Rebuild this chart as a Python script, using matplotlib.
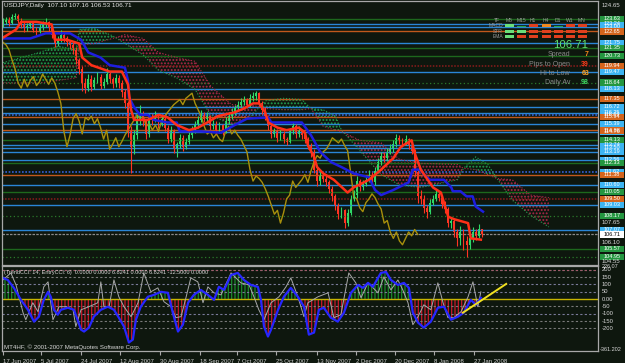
import numpy as np
import matplotlib.pyplot as plt
from matplotlib.patches import Rectangle

BG = '#0e170e'
plt.rcParams['font.family'] = ['Liberation Sans', 'DejaVu Sans']
plt.rcParams['hatch.linewidth'] = 0.9

# ---- daily bars ----
first_open = 123.2
closes = [123.4, 123.6, 123.3, 123.8, 123.9, 123.5, 123.2,
          122.9, 123.1, 123.3, 122.8, 122.7, 123.0, 123.2,
          123.4, 122.9, 122.4, 121.7,
          122.0, 122.4, 122.1, 121.8, 121.6,
          121.2, 120.4, 119.7, 118.6, 118.2,
          118.9, 118.3, 118.8, 119.1, 118.4,
          118.7, 119.3, 118.9, 118.5, 119.0, 118.6,
          117.9, 117.0, 114.8, 113.6,
          114.5, 115.8, 116.2,
          115.6, 114.6, 115.9, 115.7, 116.0, 115.4, 115.8,
          115.1, 114.2, 114.9, 113.4, 113.8,
          114.3, 113.6, 114.0, 114.5, 114.9,
          115.3, 115.7, 116.1,
          115.8, 116.0, 115.2, 115.4, 114.9,
          115.3, 114.8, 115.6, 116.0, 116.3, 116.6,
          116.9, 117.1, 117.3, 116.9, 117.4, 117.6, 117.8,
          117.0, 116.5, 116.0,
          115.2, 114.6, 114.8, 114.3, 114.6, 114.2, 114.0, 114.8, 115.2, 114.6,
          114.9, 114.5, 114.2, 113.7, 113.2,
          111.8, 110.9, 111.3,
          111.1, 110.8, 110.3, 109.7, 109.0,
          108.3, 108.6, 107.6, 108.4, 109.5,
          109.8, 110.9, 110.4, 110.7, 111.0,
          111.4, 110.8, 111.7, 112.4, 112.9,
          112.7, 113.2, 113.4, 113.8, 114.3,
          114.1, 113.9, 114.2, 113.7, 113.3,
          111.6, 109.7,
          109.5, 108.8, 108.5,
          109.2, 109.5, 109.9, 109.6, 109.1, 108.7,
          107.6, 107.8, 106.9, 106.4,
          106.9, 106.2, 105.9, 106.4, 106.9,
          106.6, 107.1, 106.71]
highs = [123.7, 123.8, 123.8, 124.0, 124.1, 124.0, 123.7,
         123.4, 123.3, 123.5, 123.4, 123.0, 123.2, 123.5,
         123.7, 123.5, 123.0, 122.5,
         122.3, 122.8, 122.6, 122.3, 122.0,
         121.8, 121.4, 120.6, 119.9, 119.0,
         119.3, 119.2, 119.1, 119.5, 119.3,
         119.0, 119.8, 119.5, 119.1, 119.3, 119.2,
         118.8, 118.1, 117.2, 115.2,
         114.9, 116.1, 116.9,
         116.4, 115.8, 116.2, 116.2, 116.4, 116.2, 116.1,
         116.0, 115.3, 115.2, 115.0, 114.0,
         114.6, 114.5, 114.3, 114.8, 115.2,
         115.6, 116.0, 116.5,
         116.3, 116.3, 116.1, 115.7, 115.6,
         115.5, 115.4, 115.9, 116.3, 116.6, 116.9,
         117.2, 117.4, 117.6, 117.4, 117.7, 117.9, 118.0,
         117.9, 117.2, 116.7,
         116.1, 115.4, 115.1, 115.0, 114.9, 114.8, 114.4, 115.1, 115.5, 115.4,
         115.2, 115.0, 114.7, 114.4, 113.9,
         113.4, 112.0, 111.7,
         111.6, 111.4, 111.0, 110.5, 109.9,
         109.2, 108.9, 108.7, 108.7, 109.8,
         110.2, 111.3, 111.1, 111.0, 111.4,
         111.8, 111.6, 112.0, 112.7, 113.2,
         113.2, 113.5, 113.8, 114.1, 114.6,
         114.5, 114.3, 114.5, 114.3, 113.9,
         113.4, 111.8,
         110.2, 109.8, 109.0,
         109.5, 109.8, 110.2, 110.1, 109.8, 109.3,
         108.9, 108.1, 108.0, 107.1,
         107.4, 107.1, 106.6, 106.8, 107.3,
         107.1, 107.5, 107.16]
lows = [123.0, 123.2, 123.1, 123.2, 123.6, 123.3, 122.9,
        122.6, 122.7, 122.9, 122.6, 122.4, 122.5, 122.8,
        123.0, 122.6, 122.1, 121.4,
        121.5, 121.8, 121.8, 121.5, 121.3,
        120.9, 120.1, 119.3, 118.0, 117.8,
        118.0, 118.0, 118.1, 118.6, 118.1,
        118.2, 118.5, 118.6, 118.2, 118.3, 118.2,
        117.5, 116.6, 114.4, 111.5,
        113.0, 114.2, 115.3,
        115.2, 114.2, 114.4, 115.3, 115.5, 115.1, 115.2,
        114.8, 113.9, 114.0, 113.1, 112.8,
        113.5, 113.3, 113.4, 113.8, 114.3,
        114.7, 115.1, 115.5,
        115.5, 115.6, 114.9, 115.0, 114.6,
        114.7, 114.5, 114.7, 115.4, 115.8, 116.1,
        116.4, 116.7, 116.9, 116.6, 116.7, 117.2, 117.3,
        116.8, 116.2, 115.7,
        114.9, 114.3, 114.4, 114.0, 114.1, 113.9, 113.7, 113.9, 114.6, 114.3,
        114.4, 114.2, 113.9, 113.4, 112.8,
        111.5, 110.5, 110.6,
        110.8, 110.5, 110.0, 109.3, 108.6,
        107.9, 108.0, 107.2, 107.4, 108.2,
        109.3, 109.6, 110.1, 110.2, 110.5,
        110.8, 110.5, 110.6, 111.5, 112.2,
        112.4, 112.5, 113.0, 113.2, 113.6,
        113.8, 113.6, 113.7, 113.4, 113.0,
        111.3, 109.2,
        109.1, 108.4, 108.0,
        108.3, 109.0, 109.3, 109.3, 108.8, 108.4,
        107.3, 107.2, 106.5, 105.8,
        105.9, 105.5, 104.9, 105.6, 106.1,
        106.3, 106.4, 106.53]

# ---- Ichimoku lines (bar index, price) ----
tenkan_x = [0.3, 4.3, 6, 11, 16, 17, 21, 25, 26, 29, 35, 39, 41, 42, 43, 47.5, 51, 54,
            57, 61, 64, 67, 70.5, 76, 79, 82, 84, 86, 87, 90, 93, 97, 99, 100, 102, 103,
            105, 108.5, 113, 115, 120, 124, 128, 130.5, 134, 135, 137, 141, 143.6, 146,
            148, 152.5, 153.4, 156.7]
tenkan = [122.2, 122.8, 123.4, 123.4, 123.2, 122.0, 122.0, 121.7, 120.6, 120.0, 119.5,
          119.5, 118.5, 116.5, 115.7, 115.7, 116.1, 115.9, 115.3, 114.9, 115.1, 115.5,
          116.0, 116.3, 116.6, 117.0, 117.0, 116.3, 115.5, 115.1, 114.9, 115.1, 114.7,
          113.7, 112.8, 112.0, 111.5, 111.0, 110.0, 110.4, 111.0, 111.8, 112.7, 113.6,
          114.1, 113.1, 111.8, 110.4, 110.0, 108.1, 107.9, 107.6, 106.4, 106.3]
kijun_x = [0, 9, 14, 22, 25.6, 28, 32, 35, 40, 41, 41.3, 43, 45, 47.5, 49.5, 54, 57, 58,
           65, 71.5, 76, 80, 87, 88, 98, 101, 104, 107.5, 111, 115, 120, 122, 124, 128,
           130.5, 133, 134.4, 137, 138, 140, 144.6, 147, 147.5, 150, 152, 154, 155, 157.4]
kijun = [122.1, 122.1, 122.5, 122.5, 122.0, 121.0, 120.6, 120.0, 119.8, 118.8, 117.5,
         116.7, 116.1, 116.1, 115.7, 115.5, 115.5, 114.8, 114.8, 114.7, 115.3, 115.8,
         115.9, 115.5, 115.5, 114.5, 113.2, 112.4, 112.0, 111.5, 111.2, 110.2, 109.8,
         110.2, 110.5, 110.8, 111.8, 111.8, 111.4, 111.0, 111.0, 110.4, 110.1, 110.1,
         109.7, 109.7, 108.9, 108.5]
cloud_x = [0, 6, 12, 18, 24, 25, 30, 36, 40, 46, 51, 57, 63, 68, 75, 81, 86, 92, 98, 101,
           105, 109, 111, 117, 124, 130, 137, 149, 151, 155, 159, 162, 167, 173, 179]
span_a = [120.2, 120.6, 121.0, 121.5, 121.2, 122.8, 122.9, 122.3, 121.7, 120.8, 119.6,
          119.0, 118.1, 116.1, 115.3, 115.9, 117.2, 117.4, 117.3, 116.6, 116.5, 116.0,
          114.9, 113.3, 111.4, 110.6, 110.4, 111.0, 111.9, 112.8, 112.2, 111.1, 109.4,
          108.2, 107.3]
span_b = [118.6, 118.6, 118.6, 118.8, 119.0, 121.6, 121.7, 122.1, 122.4, 122.1, 121.0,
          120.6, 120.3, 118.4, 116.9, 116.9, 116.6, 116.5, 116.5, 116.6, 115.2, 114.9,
          114.8, 114.1, 113.9, 112.6, 112.3, 112.2, 111.9, 111.8, 111.4, 111.1, 111.0,
          109.8, 109.6]
chikou_shift = 21

# ---- horizontal levels ----
blue_levels = [123.24, 123.00, 121.75, 119.47, 118.13, 116.72, 116.25, 115.39, 114.76,
               113.74, 113.50, 113.19, 112.56, 110.60, 109.03, 107.07]
blue_dotted_levels = [116.09, 111.62]
orange_levels = [122.65, 117.35, 115.94, 114.88, 111.38]
green_levels = [123.63, 121.35, 120.73, 114.13, 112.33, 110.05, 105.57]
green_dotted_levels = [118.64, 108.17, 104.95]
red_dotted_levels = [119.94, 109.50]
axis_prices = [124.65, 107.65, 106.10, 104.55]

# ---- CCI panel ----
trend_x = [0, 1.6, 3.6, 5.9, 8.2, 10.2, 11.8, 13.4, 14.8, 15.7, 16.7, 18, 19, 21.3, 23.3,
           25.6, 26.6, 28.2, 29.8, 32.1, 34.4, 36.4, 38, 39.7, 41.3, 42.6, 43.6, 45.2,
           47.5, 49.5, 51.8, 54.1, 55.7, 57.4, 59, 60.7, 62.6, 64.9, 67.2, 69.2, 70.8,
           72.5, 74.8, 77, 79, 81.3, 83.6, 84.6, 85.6, 86.9, 87.9, 90.2, 92.1, 94.4, 96.7,
           98.7, 100.3, 102, 103.6, 105.2, 107.5, 109.8, 111.8, 114.1, 116.4, 118, 119.7,
           121.3, 123.9, 125.6, 127.2, 129.5, 131.5, 133.1, 134.4, 136.1, 138, 140.3,
           142.6, 144.6, 146.9, 149.2, 151.1, 153.4, 155.1, 156.7]
trend_cci = [145, 131, 77, -5, -73, -154, -120, -5, 50, 16, -73, -107, -73, -59, -73,
             -209, -222, -195, -120, -73, -52, -73, -127, -188, -297, -277, -141, -52,
             16, 29, 50, 43, -93, -222, -175, -25, 29, 63, 29, -5, 84, 63, 165, 179, 131,
             97, 84, -5, -188, -256, -209, -73, 16, 77, 16, -52, -243, -229, -73, -59,
             -127, -154, -93, 43, 97, 77, 111, 84, 179, 186, 131, 97, 111, 77, -93, -161,
             -195, -154, -59, -52, -141, -120, -93, -5, -39, 9]
entry_x = [0, 2.6, 4.3, 6.6, 7.5, 9.8, 11.5, 13.4, 14.8, 16.4, 18.4, 20.7, 23, 23.9, 25.6,
           28.2, 31.1, 32.1, 33.1, 34.8, 36.4, 38, 39.7, 42, 44.3, 46.2, 48.5, 50.8, 52.8,
           55.1, 56.7, 58.4, 60, 61.6, 63.9, 65.6, 67.2, 69.2, 71.5, 74.8, 78, 80.7, 82.3,
           83.9, 85.6, 87.9, 90.5, 92.8, 94.4, 96.7, 98.7, 100, 103.3, 106.6, 108.5,
           110.8, 113.4, 115.7, 117.4, 119.7, 123, 124.9, 127.2, 129.5, 131.1, 132.8,
           134.4, 136.1, 138, 140.3, 142.6, 144.3, 145.9, 147.9, 150.2, 152.5, 154.1,
           155.7, 156.7]
entry_cci = [131, 179, 97, -93, -141, -25, -86, 84, 118, -141, -52, -52, -73, -188, -73,
             -52, -25, 118, -52, -52, 131, 16, -52, -120, -25, 179, 50, 77, -18, -52,
             -127, -120, 9, 145, 118, -25, 84, 43, 29, 179, 111, 97, 16, -73, -141, -25,
             16, 84, 145, 16, -120, -25, 16, 43, -127, -107, 179, 111, 9, 111, 43, 152,
             63, 131, 63, -25, -175, -120, -39, -73, 111, -25, -127, -127, -86, 16, 118,
             -52, 50]
cci_levels = [200, 150, 100, 50, -50, -100, -150, -200]
trendline_x = [150.8, 165]
trendline_y = [-93, 104]

date_labels = ['17 Jun 2007', '5 Jul 2007', '24 Jul 2007', '12 Aug 2007', '30 Aug 2007',
               '18 Sep 2007', '7 Oct 2007', '25 Oct 2007', '13 Nov 2007', '2 Dec 2007',
               '20 Dec 2007', '8 Jan 2008', '27 Jan 2008']
date_bars = [0, 12.5, 25.6, 38.4, 51.5, 64.6, 76.7, 89.5, 103, 115.7, 128.5, 141.3, 154.4]

# info box (top right)
tf_names = ['M5', 'M15', 'H1', 'H4', 'D1', 'W1', 'MN']
row_names = ['MACD', 'STR', 'EMA']
signals = [['up', 'weak', 'dn', 'flat', 'weak', 'dn', 'dn'],
           ['up', 'up', 'dn', 'dn', 'dn', 'dn', 'dn'],
           ['up', 'dn', 'dn', 'dn', 'dn', 'dn', 'dn']]
stats = [('Spread', '7', '#ff8c1a'), ('Pips to Open', '39', '#ff3a1a'),
         ('Hi to Low', '63', '#ffa020'), ('Daily Av', '98', '#3ed860')]

W, H = 625, 363
fig = plt.figure(figsize=(6.25, 3.63), dpi=100, facecolor=BG)


def frame(x0, y0, x1, y1):
    return [x0 / W, 1 - y1 / H, (x1 - x0) / W, (y1 - y0) / H]


ax = fig.add_axes(frame(2, 1, 598, 265))
ax2 = fig.add_axes(frame(2, 266, 598, 351))
for a in (ax, ax2):
    a.set_facecolor(BG)
    for s in a.spines.values():
        s.set_color('#a8a8a8')
        s.set_linewidth(0.9)
    a.set_xlim(-0.3, 195.1)

# horizontal levels
for p in blue_levels:
    ax.axhline(p, color='#2a86d6', lw=1)
for p in blue_dotted_levels:
    ax.axhline(p, color='#3560d8', lw=1.2, ls=(0, (1, 1)))
for p in orange_levels:
    ax.axhline(p, color='#c0581c', lw=1)
for p in green_levels:
    ax.axhline(p, color='#1d681d', lw=1)
for p in green_dotted_levels:
    ax.axhline(p, color='#2a7a2a', lw=0.9, ls=(0, (1, 2)))
for p in red_dotted_levels:
    ax.axhline(p, color='#8c1c1c', lw=1.1, ls=(0, (1, 1)))
ax.axhline(closes[-1], color='#8a8a8a', lw=0.9, ls=(0, (2, 1)))

# cloud
ca, cb = np.array(span_a), np.array(span_b)
ax.fill_between(cloud_x, ca, cb, where=ca >= cb, interpolate=True, facecolor='none',
                edgecolor='#22a050', hatch='.....', linewidth=0)
ax.fill_between(cloud_x, ca, cb, where=ca < cb, interpolate=True, facecolor='none',
                edgecolor='#b0284a', hatch='.....', linewidth=0)
ax.plot(cloud_x, ca, color='#22a050', lw=0.8, ls=':')
ax.plot(cloud_x, cb, color='#b0284a', lw=0.8, ls=':')

# chikou span
idx = np.arange(len(closes))
ax.plot(idx - chikou_shift, closes, color='#a8900c', lw=1)

# candles
c = np.array(closes)
o = np.concatenate([[first_open], c[:-1]])
up = c >= o
cols = np.where(up, '#2fd866', '#ff3322')
ax.vlines(idx, lows, highs, colors=cols, lw=0.8)
ax.bar(idx, np.maximum(np.abs(c - o), 0.05), bottom=np.minimum(o, c), width=0.62,
       color=cols, linewidth=0)

ax.plot(kijun_x, kijun, color='#1e1ee0', lw=1.8)
ax.plot(tenkan_x, tenkan, color='#ff3018', lw=1.8)

ax.set_ylim(104.31, 125.04)
ax.set_xticks([])
ax.set_yticks([])

# right-hand price boxes
yt = ax.get_yaxis_transform()
bw = 24 / 596


def price_box(p, fc, tc='white'):
    ax.add_patch(Rectangle((1.003, p - 0.26), bw, 0.52, transform=yt, clip_on=False,
                           facecolor=fc, edgecolor='none'))
    ax.text(1.003 + bw / 2, p, '%.2f' % p, transform=yt, fontsize=4.0, color=tc,
            ha='center', va='center', clip_on=False)


for p in blue_levels + blue_dotted_levels:
    price_box(p, '#3db4f2')
for p in green_levels + green_dotted_levels:
    price_box(p, '#249640')
for p in orange_levels + red_dotted_levels:
    price_box(p, '#d4641c')
price_box(closes[-1], '#ffffff', 'black')
for p in axis_prices:
    ax.text(1.006, p, '%.2f' % p, transform=yt, fontsize=4.4, color='#d8d8d8',
            ha='left', va='center', clip_on=False)

# ---- CCI panel ----
tx, tv = np.array(trend_x), np.array(trend_cci)
for lv in cci_levels:
    ax2.axhline(lv, color='#7a7a9a' if lv in (100, 50, -100) else '#7a7a7a',
                lw=0.8, ls=(0, (2, 2)))
ax2.axhline(200, color='#a05a6a', lw=0.8, ls=(0, (2, 2)))
ax2.fill_between(tx, tv, 0, where=tv >= 0, interpolate=True, facecolor='none',
                 edgecolor='#1a8a2a', hatch='|||||', linewidth=0)
ax2.fill_between(tx, tv, 0, where=tv < 0, interpolate=True, facecolor='none',
                 edgecolor='#c8182a', hatch='|||||', linewidth=0)
ax2.axhline(0, color='#c8b400', lw=1)
ax2.plot(entry_x, entry_cci, color='#a8a8a8', lw=0.7)
ax2.plot(trend_x, trend_cci, color='#2626ff', lw=1.6)
ax2.plot(trendline_x, trendline_y, color='#f0e020', lw=1.4)
ax2.set_ylim(-355, 226.5)
ax2.set_yticks([])
ax2.set_xticks(date_bars, date_labels)
ax2.tick_params(axis='x', colors='#a8a8a8', labelcolor='#d0d0d0', labelsize=4.3,
                length=3, pad=2.5)
for lbl in ax2.get_xticklabels():
    lbl.set_ha('left')

yt2 = ax2.get_yaxis_transform()
for lv in cci_levels:
    ax2.text(1.006, lv, '%d' % lv, transform=yt2, fontsize=4.2, color='#d8d8d8',
             ha='left', va='center', clip_on=False)
ax2.text(1.006, 0, '0.00', transform=yt2, fontsize=4.2, color='#d8d8d8', ha='left',
         va='center', clip_on=False)
ax2.text(1.006, 226, '226.07', transform=yt2, fontsize=4.0, color='#d8d8d8', ha='left',
         va='center', clip_on=False)
ax2.text(1.003, -345, '-361.202', transform=yt2, fontsize=4.0, color='#d8d8d8',
         ha='left', va='center', clip_on=False)

# ---- texts ----
def ftext(x, y, s, **kw):
    fig.text(x / W, 1 - y / H, s, **kw)


ftext(4, 6, 'USDJPY,Daily  107.10 107.16 106.53 106.71', fontsize=4.6, color='#e8e8e8',
      va='center')
ftext(4, 272.5, '(TrendCCI: 14, EntryCCI: 6)  0.0000 0.0000 6.8241 0.0000 6.8241 '
      '-12.5000 0.0000', fontsize=4.0, color='#d8d8d8', va='center')
ftext(4, 347, 'MT4HF, \u00a9 2001-2007 MetaQuotes Software Corp.', fontsize=4.4,
      color='#d8d8d8', va='center')

col_x = [509, 521, 533, 546, 558, 570, 582]
row_y = [25.5, 31.5, 36.5]
ftext(497, 21, 'TF', fontsize=3.6, color='#9a9a9a', ha='center', va='center')
for name, cx in zip(tf_names, col_x):
    ftext(cx, 21, name, fontsize=3.6, color='#9a9a9a', ha='center', va='center')
sig_col = {'up': '#6ade7a', 'weak': '#2aa84a', 'dn': '#e0401e', 'flat': '#f08a22'}
for r, (name, ry) in enumerate(zip(row_names, row_y)):
    ftext(503, ry, name, fontsize=3.6, color='#9a9a9a', ha='right', va='center')
    for s, cx in zip(signals[r], col_x):
        h = 1.5 if s == 'weak' else 3.4
        fig.add_artist(Rectangle(((cx - 4.5) / W, 1 - (ry + 1.7) / H), 9 / W, h / H,
                                 transform=fig.transFigure, facecolor=sig_col[s],
                                 edgecolor='none'))
ftext(588, 45, '106.71', fontsize=8.2, color='#5fe070', ha='right', va='center')
for (name, val, col), sy in zip(stats, [55, 64.5, 73.5, 83]):
    ftext(570, sy, name, fontsize=5.0, color='#8a8a8a', ha='right', va='center')
    ftext(589, sy, val, fontsize=5.0, color=col, ha='right', va='center',
          fontweight='bold')

fig.savefig('out.png', dpi=100, facecolor=BG)
